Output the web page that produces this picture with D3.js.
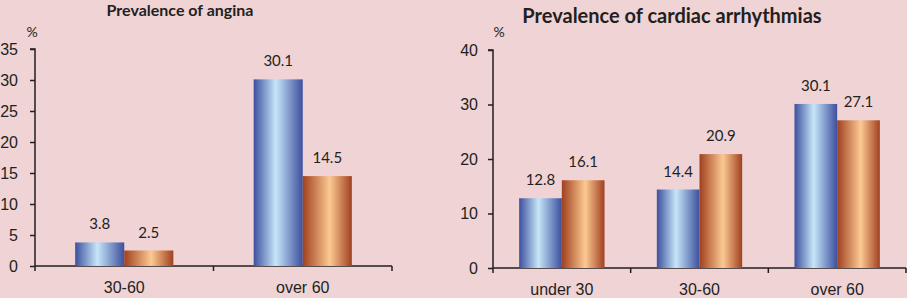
<!DOCTYPE html>
<html>
<head>
<meta charset="utf-8">
<script src="https://cdn.jsdelivr.net/npm/d3@7"></script>
<style>
  body { margin: 0; background: #efd3d5; }
  svg { display: block; font-family: Lato, "Open Sans", sans-serif; }
  .domain, .tick line { stroke: #231f20; stroke-width: 1.5; }
</style>
</head>
<body>
<div id="main"></div>
<script>
// angina chart data
var anginaCategories = ["30-60", "over 60"];
var anginaBlue = [3.8, 30.1];
var anginaOrange = [2.5, 14.5];
var anginaTicks = [0, 5, 10, 15, 20, 25, 30, 35];

// arrhythmia chart data
var arrhCategories = ["under 30", "30-60", "over 60"];
var arrhBlue = [12.8, 14.4, 30.1];
var arrhOrange = [16.1, 20.9, 27.1];
var arrhTicks = [0, 10, 20, 30, 40];

var W = 907, H = 298;

var svg = d3.select("#main").append("svg")
    .attr("width", W)
    .attr("height", H);

var defs = svg.append("defs");

function addGradient(id, edge, mid, midPos) {
    var g = defs.append("linearGradient").attr("id", id)
        .attr("x1", "0%").attr("x2", "100%").attr("y1", "0%").attr("y2", "0%");
    g.append("stop").attr("offset", "0%").attr("stop-color", edge);
    g.append("stop").attr("offset", midPos).attr("stop-color", mid);
    g.append("stop").attr("offset", "100%").attr("stop-color", edge);
}
addGradient("gBlue", "#3d4f9f", "#c6e6f8", "45%");
addGradient("gOrange", "#a0401f", "#fcc992", "55%");

function drawChart(opt) {
    var g = svg.append("g");

    var x = d3.scaleBand()
        .domain(opt.categories)
        .range([opt.x0, opt.x1])
        .paddingInner(0)
        .paddingOuter(0);

    var y = d3.scaleLinear()
        .domain([0, opt.max])
        .range([opt.y0, opt.y1]);

    var barW = x.bandwidth() * opt.barFrac;

    // y axis
    var yAxis = g.append("g")
        .attr("transform", "translate(" + opt.x0 + ",0)")
        .call(d3.axisLeft(y).tickValues(opt.ticks).tickSize(5).tickPadding(opt.tickPad).tickFormat(d3.format("d")));
    yAxis.select(".domain").attr("d", "M0," + opt.y0 + "V" + opt.y1 + "h-5");
    yAxis.selectAll("text").style("font-size", "16px").attr("fill", "#231f20");

    // x axis
    var xAxis = g.append("g")
        .attr("transform", "translate(0," + opt.y0 + ")")
        .call(d3.axisBottom(x).tickSize(0).tickPadding(16));
    xAxis.select(".domain").attr("d", "M" + opt.x0 + ",0H" + opt.x1);
    xAxis.selectAll("text").style("font-size", "16px").attr("fill", "#231f20");

    // category separators
    var seps = d3.range(opt.categories.length + 1).map(function (i) {
        return opt.x0 + i * x.bandwidth();
    });
    g.selectAll(".sep").data(seps).enter().append("line")
        .attr("x1", function (d) { return d; })
        .attr("x2", function (d) { return d; })
        .attr("y1", opt.y0)
        .attr("y2", opt.y0 + 5)
        .attr("stroke", "#231f20")
        .attr("stroke-width", 1.5);

    var series = [
        { values: opt.blue, fill: "url(#gBlue)", off: -barW },
        { values: opt.orange, fill: "url(#gOrange)", off: 0 }
    ];

    series.forEach(function (s) {
        g.selectAll(null).data(s.values).enter().append("rect")
            .attr("x", function (d, i) { return x(opt.categories[i]) + x.bandwidth() / 2 + s.off; })
            .attr("y", function (d) { return y(d); })
            .attr("width", barW)
            .attr("height", function (d) { return opt.y0 - y(d); })
            .attr("fill", s.fill);

        g.selectAll(null).data(s.values).enter().append("text")
            .attr("x", function (d, i) { return x(opt.categories[i]) + x.bandwidth() / 2 + s.off + barW / 2; })
            .attr("y", function (d) { return y(d) - 13; })
            .attr("text-anchor", "middle")
            .style("font-size", "15px")
            .attr("fill", "#231f20")
            .text(function (d) { return d.toFixed(1); });
    });

    // % label
    g.append("text")
        .attr("x", opt.pctX)
        .attr("y", opt.pctY)
        .attr("text-anchor", "middle")
        .style("font-size", "14px")
        .attr("fill", "#231f20")
        .text("%");

    // title
    g.append("text")
        .attr("x", opt.titleX)
        .attr("y", opt.titleY)
        .attr("text-anchor", "middle")
        .style("font-size", opt.titleSize)
        .style("font-weight", "bold")
        .attr("fill", "#231f20")
        .text(opt.title);
}

drawChart({
    categories: anginaCategories, blue: anginaBlue, orange: anginaOrange,
    ticks: anginaTicks, max: 35,
    x0: 35, x1: 392, y0: 266, y1: 49,
    barFrac: 0.275, tickPad: 12,
    pctX: 32, pctY: 37,
    title: "Prevalence of angina", titleX: 180, titleY: 16, titleSize: "16px"
});

drawChart({
    categories: arrhCategories, blue: arrhBlue, orange: arrhOrange,
    ticks: arrhTicks, max: 40,
    x0: 493, x1: 906, y0: 268, y1: 50,
    barFrac: 0.31, tickPad: 10,
    pctX: 499, pctY: 37,
    title: "Prevalence of cardiac arrhythmias", titleX: 672, titleY: 23, titleSize: "20px"
});
</script>
</body>
</html>
